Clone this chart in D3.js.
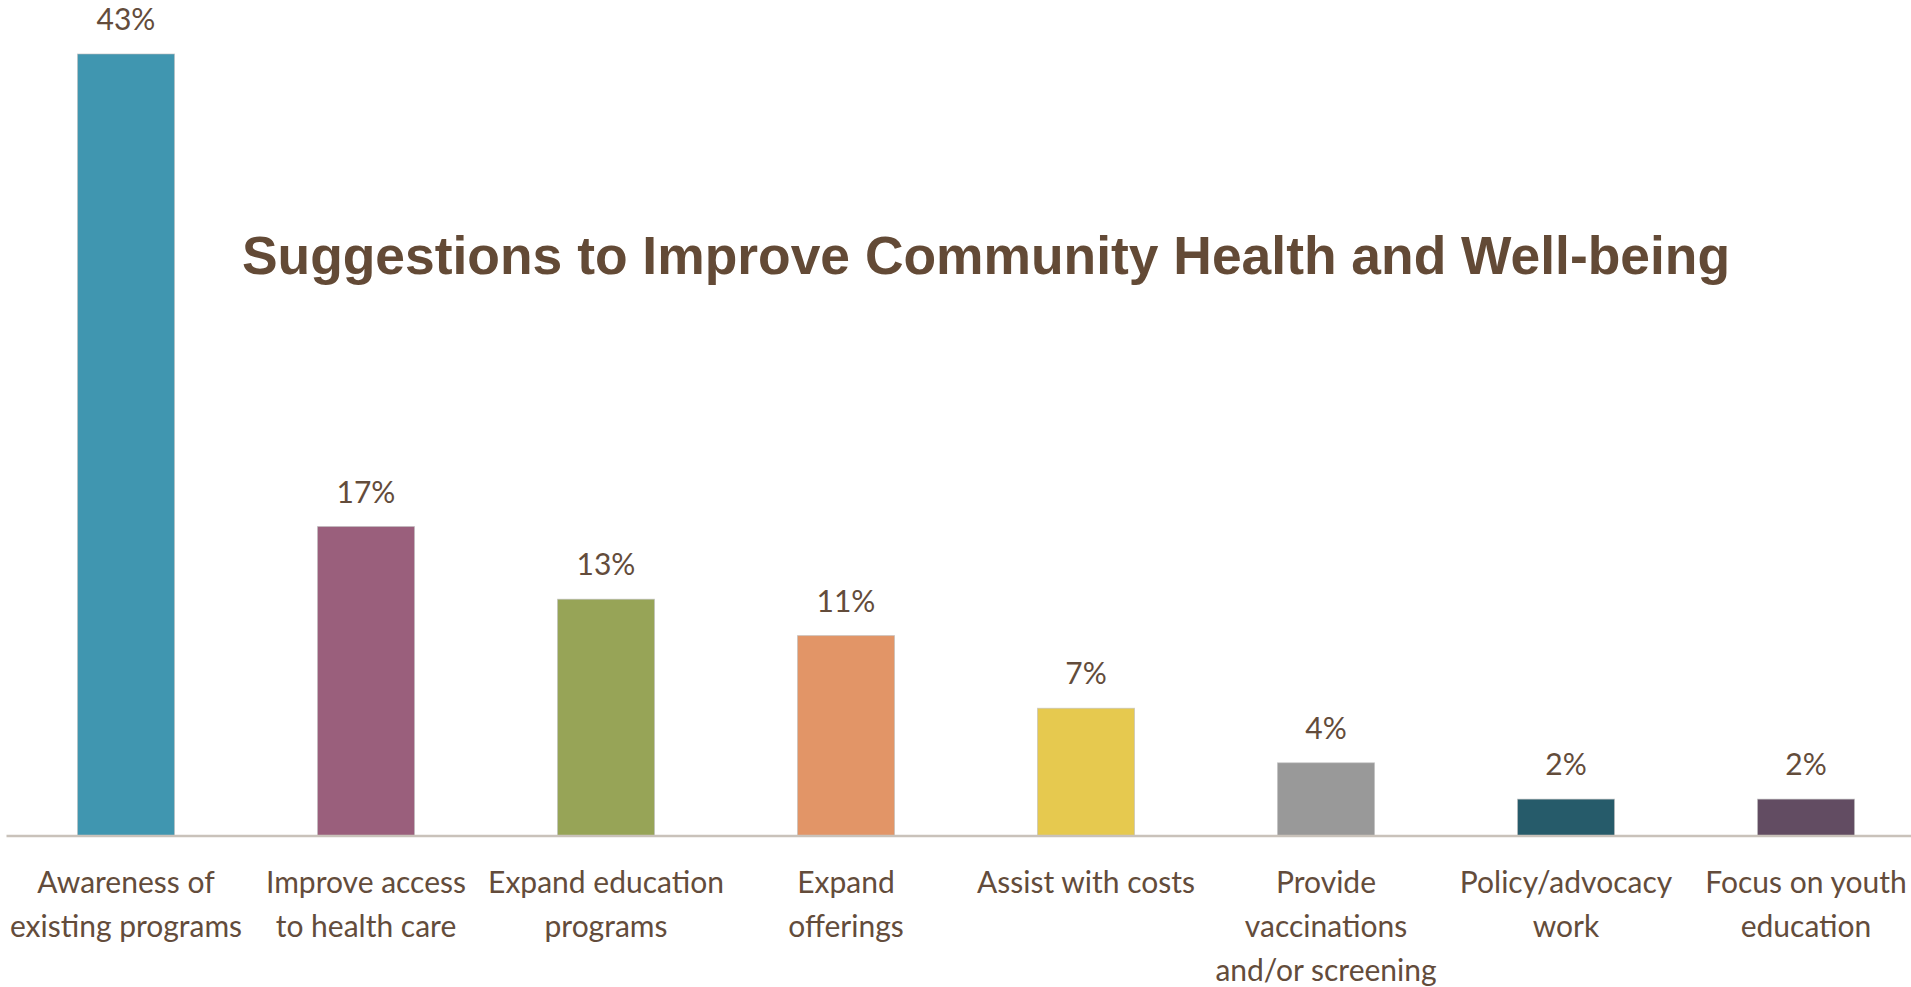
<!DOCTYPE html>
<html>
<head>
<meta charset="utf-8">
<script src="https://cdn.jsdelivr.net/npm/d3@7"></script>
<style>
  html, body { margin: 0; padding: 0; background: #ffffff; }
  svg { display: block; }
</style>
</head>
<body>
<svg id="chart" width="1911" height="987"></svg>
<script>
// Survey responses: share of suggestions by theme
const categories = [
  "Awareness of existing programs",
  "Improve access to health care",
  "Expand education programs",
  "Expand offerings",
  "Assist with costs",
  "Provide vaccinations and/or screening",
  "Policy/advocacy work",
  "Focus on youth education"
];
// How each axis label breaks across lines
const categoryLines = [
  ["Awareness of", "existing programs"],
  ["Improve access", "to health care"],
  ["Expand education", "programs"],
  ["Expand", "offerings"],
  ["Assist with costs"],
  ["Provide", "vaccinations", "and/or screening"],
  ["Policy/advocacy", "work"],
  ["Focus on youth", "education"]
];
const percentages = [43, 17, 13, 11, 7, 4, 2, 2];
const barColors = ["#4096b0", "#9a5f7c", "#97a457", "#e29567", "#e6c94f", "#999999", "#265b6a", "#624c62"];
const chartTitle = "Suggestions to Improve Community Health and Well-being";

const W = 1911, H = 987;
const baseY = 835.5;
const textColor = "#634c3b";
const labelFont = "Lato, 'Open Sans', sans-serif";

const svg = d3.select("#chart");

const x = d3.scaleBand()
  .domain(categories)
  .range([6, 1926])
  .paddingInner(0.596)
  .paddingOuter(0.298);

const y = d3.scaleLinear()
  .domain([0, 43])
  .range([baseY, 54]);

// Bars
svg.append("g")
  .selectAll("rect")
  .data(percentages)
  .join("rect")
  .attr("x", (d, i) => x(categories[i]))
  .attr("y", d => y(d))
  .attr("width", x.bandwidth())
  .attr("height", d => y(0) - y(d))
  .attr("fill", (d, i) => barColors[i])
  .attr("stroke", "#bdbdbd")
  .attr("stroke-opacity", 0.6)
  .attr("stroke-width", 1);

// Category axis along the base line
const axis = svg.append("g")
  .attr("transform", `translate(0,${baseY})`)
  .call(d3.axisBottom(x).tickSize(0).tickSizeOuter(0));

axis.select(".domain")
  .attr("stroke", "#c9c2ba")
  .attr("stroke-width", 2.5);

axis.selectAll(".tick text").each(function (d, i) {
  const t = d3.select(this);
  t.text(null)
    .attr("y", 0)
    .attr("dy", null)
    .attr("fill", textColor)
    .style("font-family", labelFont)
    .style("font-size", "30px");
  categoryLines[i].forEach((line, k) => {
    t.append("tspan")
      .attr("x", 0)
      .attr("y", 57 + k * 44)
      .text(line);
  });
});

// Value labels above the bars
svg.append("g")
  .selectAll("text")
  .data(percentages)
  .join("text")
  .attr("x", (d, i) => x(categories[i]) + x.bandwidth() / 2)
  .attr("y", d => y(d) - 24)
  .attr("text-anchor", "middle")
  .attr("fill", textColor)
  .style("font-family", labelFont)
  .style("font-size", "30px")
  .text(d => d + "%");

// Title
svg.append("text")
  .attr("x", 986)
  .attr("y", 274)
  .attr("text-anchor", "middle")
  .attr("fill", "#634a36")
  .style("font-family", "'Liberation Sans', Arial, sans-serif")
  .style("font-weight", "bold")
  .style("font-size", "53.4px")
  .text(chartTitle);
</script>
</body>
</html>
